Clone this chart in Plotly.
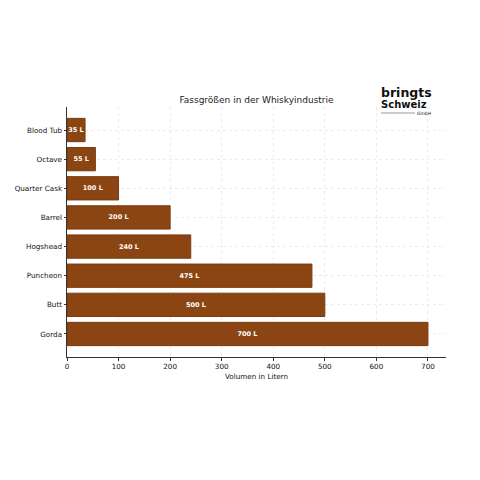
import plotly.graph_objects as go

categories = ["Blood Tub", "Octave", "Quarter Cask", "Barrel", "Hogshead", "Puncheon", "Butt", "Gorda"]
volumes = [35, 55, 100, 200, 240, 475, 500, 700]
labels = [f"{v} L" for v in volumes]
x_ticks = [0, 100, 200, 300, 400, 500, 600, 700]

# page body has an 8px margin, so the figure is drawn 8px in from the window edge
OFF = 8
FW = FH = 480 - 2 * OFF
L, R, T, B = 67 - OFF, 446 - OFF, 107 - OFF, 357 - OFF
W, H = R - L, B - T

fig = go.Figure()
fig.add_trace(go.Bar(
    y=categories, x=volumes, orientation="h", width=0.8,
    marker=dict(color="#8B4513", line=dict(color="#7a3c10", width=1)),
    text=labels, textposition="inside", insidetextanchor="middle", textangle=0,
    constraintext="none",
    textfont=dict(color="white", size=6.5, family="DejaVu Sans"),
    texttemplate="<b>%{text}</b>",
    hoverinfo="skip",
))

fig.update_layout(
    width=FW, height=FH,
    margin=dict(l=L, r=FW - R, t=T, b=FH - B, autoexpand=False),
    plot_bgcolor="white", paper_bgcolor="white",
    font=dict(family="DejaVu Sans", size=7, color="#111"),
    showlegend=False,
    title=dict(text="Fassgrößen in der Whiskyindustrie", x=(L + R) / 2 / FW, xanchor="center",
               y=1 - (100 - OFF) / FH, yanchor="middle", font=dict(size=9, color="#222")),
    uniformtext=dict(minsize=5, mode="show"),
)
fig.update_xaxes(
    range=[0, 735], tickvals=x_ticks, ticks="outside", ticklen=2.5, tickcolor="#333",
    showline=True, linecolor="#333", linewidth=1,
    showgrid=True, gridcolor="#ececec", griddash="dot", gridwidth=1,
    zeroline=False, automargin=False,
    title=dict(text="Volumen in Litern", font=dict(size=7.2, color="#111"), standoff=3),
    tickfont=dict(size=7.2, color="#111"),
)
fig.update_yaxes(
    categoryorder="array", categoryarray=categories,
    range=[7.79, -0.79], ticks="outside", ticklen=2.5, tickcolor="#333",
    showline=True, linecolor="#333", linewidth=1,
    showgrid=True, gridcolor="#ececec", griddash="dot", gridwidth=1,
    zeroline=False, automargin=False, tickfont=dict(size=7.2, color="#111"),
)

def px(x):
    return (x - OFF - L) / W

def py(y):
    return (B - (y - OFF)) / H

# Logo
fig.add_annotation(text="<b>bringts</b>", xref="paper", yref="paper",
                   x=px(379), y=py(93), xanchor="left", yanchor="middle",
                   showarrow=False, font=dict(size=12.5, color="#111", family="DejaVu Sans"))
fig.add_annotation(text="<b>Schweiz</b>", xref="paper", yref="paper",
                   x=px(379), y=py(104.5), xanchor="left", yanchor="middle",
                   showarrow=False, font=dict(size=10, color="#111", family="DejaVu Sans"))
fig.add_shape(type="rect", xref="paper", yref="paper",
              x0=px(381), x1=px(415), y0=py(114), y1=py(112),
              fillcolor="#cccccc", line=dict(width=0))
fig.add_annotation(text="<i>GmbH</i>", xref="paper", yref="paper",
                   x=px(434), y=py(113.5), xanchor="right", yanchor="middle",
                   showarrow=False, font=dict(size=4.5, color="#222", family="DejaVu Sans"))

fig.write_html("out.html")
